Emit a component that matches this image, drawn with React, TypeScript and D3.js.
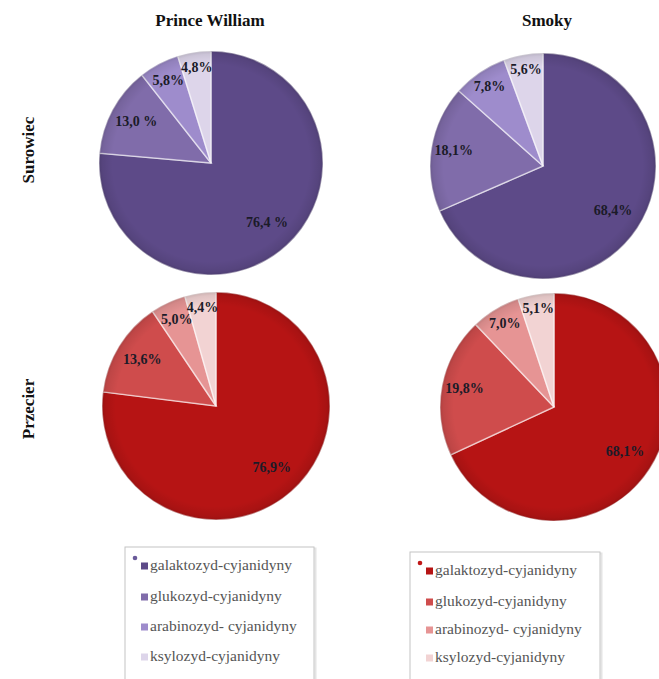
import React from "react";
import * as d3 from "d3";

const categories = [
  "galaktozyd-cyjanidyny",
  "glukozyd-cyjanidyny",
  "arabinozyd- cyjanidyny",
  "ksylozyd-cyjanidyny",
];
const columnTitles = ["Prince William", "Smoky"];
const rowTitles = ["Surowiec", "Przecier"];

const pwSurowiec = [76.4, 13.0, 5.8, 4.8];
const smSurowiec = [68.4, 18.1, 7.8, 5.6];
const pwPrzecier = [76.9, 13.6, 5.0, 4.4];
const smPrzecier = [68.1, 19.8, 7.0, 5.1];

const pwSurowiecLabels = ["76,4 %", "13,0 %", "5,8%", "4,8%"];
const smSurowiecLabels = ["68,4%", "18,1%", "7,8%", "5,6%"];
const pwPrzecierLabels = ["76,9%", "13,6%", "5,0%", "4,4%"];
const smPrzecierLabels = ["68,1%", "19,8%", "7,0%", "5,1%"];

const purple = ["#5d4a88", "#806caa", "#9e8ccc", "#ddd5ea"];
const red = ["#b61414", "#cf4c4c", "#e69494", "#f2d3d3"];

const W = 659;
const H = 679;
const SERIF = '"Liberation Serif", "Times New Roman", Tinos, "DejaVu Serif", serif';

type PieSpec = {
  values: number[];
  labels: string[];
  colors: string[];
  cx: number;
  cy: number;
  r: number;
  labelK: number[];
  id: string;
};

const pies: PieSpec[] = [
  { values: pwSurowiec, labels: pwSurowiecLabels, colors: purple, cx: 211, cy: 163, r: 112, labelK: [0.74, 0.76, 0.82, 0.85], id: "a" },
  { values: smSurowiec, labels: smSurowiecLabels, colors: purple, cx: 543, cy: 166, r: 113, labelK: [0.74, 0.8, 0.84, 0.86], id: "b" },
  { values: pwPrzecier, labels: pwPrzecierLabels, colors: red, cx: 216, cy: 406, r: 114, labelK: [0.74, 0.76, 0.82, 0.86], id: "c" },
  { values: smPrzecier, labels: smPrzecierLabels, colors: red, cx: 554, cy: 407, r: 114, labelK: [0.74, 0.8, 0.84, 0.86], id: "d" },
];

const pieGen = d3
  .pie<number>()
  .sort(null)
  .value((d) => d)
  .startAngle(0)
  .endAngle(2 * Math.PI);

function Pie({ spec }: { spec: PieSpec }) {
  const arcs = pieGen(spec.values);
  const arc = d3.arc<d3.PieArcDatum<number>>().innerRadius(0).outerRadius(spec.r);
  return (
    <g transform={`translate(${spec.cx},${spec.cy})`}>
      {arcs.map((a, i) => (
        <path
          key={i}
          d={arc(a) || ""}
          fill={spec.colors[i]}
          stroke="rgba(255,255,255,0.55)"
          strokeWidth={1.5}
        />
      ))}
      <circle r={spec.r} fill={`url(#shade-${spec.id})`} />
      {arcs.map((a, i) => {
        const mid = (a.startAngle + a.endAngle) / 2;
        const rr = spec.r * spec.labelK[i];
        const x = Math.sin(mid) * rr;
        const y = -Math.cos(mid) * rr;
        return (
          <text
            key={"t" + i}
            x={x}
            y={y}
            textAnchor="middle"
            dominantBaseline="middle"
            style={{ fontFamily: SERIF, fontWeight: 700, fontSize: 14 }}
            fill="#1b1b28"
          >
            {spec.labels[i]}
          </text>
        );
      })}
    </g>
  );
}

function Legend({ x, y, w, h, colors, dotColor, mx, rows }: { x: number; y: number; w: number; h: number; colors: string[]; dotColor: string; mx: number; rows: number[] }) {
  return (
    <g>
      <rect x={x + 1.5} y={y + 1.5} width={w} height={h} fill="none" stroke="#e4e4e4" strokeWidth={2} />
      <rect x={x} y={y} width={w} height={h} fill="#fff" stroke="#c4c4c4" strokeWidth={1} />
      <circle cx={x + 10} cy={y + 11} r={2.3} fill={dotColor} />
      {categories.map((c, i) => (
        <g key={c}>
          <rect x={mx} y={rows[i] - 3.5} width={7} height={7} fill={colors[i]} />
          <text
            x={mx + 9}
            y={rows[i]}
            dominantBaseline="middle"
            style={{ fontFamily: SERIF, fontSize: 15.5 }}
            fill="#555"
          >
            {c}
          </text>
        </g>
      ))}
    </g>
  );
}

export default function App() {
  const titleStyle = { fontFamily: SERIF, fontWeight: 700, fontSize: 17 };
  return (
    <svg
      width={W}
      height={H}
      style={{ position: "absolute", left: 0, top: 0, background: "#fff" }}
    >
      <defs>
        {pies.map((p) => (
          <radialGradient key={p.id} id={`shade-${p.id}`} cx="0.5" cy="0.5" r="0.5">
            <stop offset="0%" stopColor="#000" stopOpacity={0} />
            <stop offset="88%" stopColor="#000" stopOpacity={0} />
            <stop offset="97%" stopColor="#000" stopOpacity={0.08} />
            <stop offset="100%" stopColor="#000" stopOpacity={0.16} />
          </radialGradient>
        ))}
      </defs>
      <rect width={W} height={H} fill="#fff" />
      <text x={210} y={22} textAnchor="middle" dominantBaseline="middle" style={titleStyle} fill="#111">
        {columnTitles[0]}
      </text>
      <text x={547} y={22} textAnchor="middle" dominantBaseline="middle" style={titleStyle} fill="#111">
        {columnTitles[1]}
      </text>
      <text transform="translate(30,150) rotate(-90)" textAnchor="middle" dominantBaseline="middle" style={titleStyle} fill="#111">
        {rowTitles[0]}
      </text>
      <text transform="translate(30,409) rotate(-90)" textAnchor="middle" dominantBaseline="middle" style={titleStyle} fill="#111">
        {rowTitles[1]}
      </text>
      {pies.map((p) => (
        <Pie key={p.id} spec={p} />
      ))}
      <Legend x={125} y={547} w={189} h={140} colors={purple} dotColor="#6a5a9a" mx={141} rows={[566, 597, 627, 657]} />
      <Legend x={410} y={552} w={190} h={140} colors={red} dotColor="#c01818" mx={426} rows={[571, 602, 630, 658]} />
    </svg>
  );
}
